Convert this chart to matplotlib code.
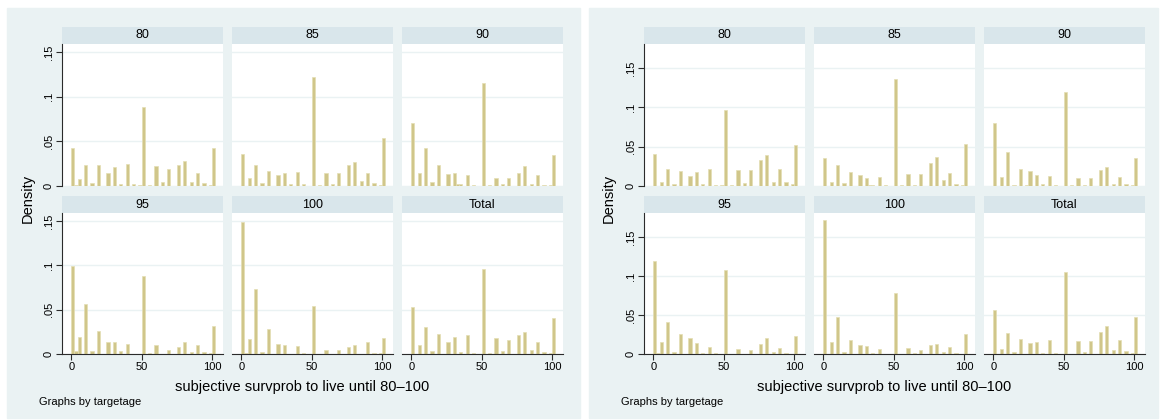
import numpy as np
import matplotlib.pyplot as plt
from matplotlib.patches import Rectangle

plt.rcParams['font.family'] = ['Liberation Sans', 'DejaVu Sans']

# answers given on the survey (round values) and the facet groups
answers = list(range(0, 101, 5))
groups = ['80', '85', '90', '95', '100', 'Total']

# left graph: density of the bins holding 0, 5, 10, ..., 100
left_80 = [.043, .008, .024, .003, .024, .015, .021, .002, .025, .002, .089,
           .001, .022, .004, .019, .023, .028, .004, .014, .003, .042]
left_85 = [.036, .009, .023, .003, .017, .012, .015, .002, .016, .002, .122,
           .001, .014, .002, .015, .023, .027, .006, .015, .003, .054]
left_90 = [.070, .015, .042, .005, .024, .013, .015, .002, .012, .001, .115,
           .001, .009, .002, .009, .015, .022, .002, .012, .001, .035]
left_95 = [.099, .019, .056, .003, .026, .013, .013, .003, .011, 0, .088,
           .001, .010, 0, .004, .008, .013, .002, .010, .002, .032]
left_100 = [.149, .017, .0735, .002, .028, .011, .010, 0, .009, .001, .054,
            0, .0045, 0, .0045, .008, .010, 0, .014, .001, .018]
left_total = [.053, .010, .030, .003, .023, .014, .019, .002, .021, .001, .0955,
              .001, .018, .003, .016, .021, .025, .004, .013, .002, .041]

# odd answers that fall in the bins between the round ones: (answer, density)
left_80_odd = [(3, .001), (48, .001), (98, .001)]
left_85_odd = [(98, .001)]
left_90_odd = [(33, .002), (98, .001)]
left_95_odd = [(3, .003), (98, .001)]
left_100_odd = [(3, .001), (98, .001)]
left_total_odd = [(98, .001)]

# right graph
right_80 = [.041, .005, .021, .0025, .019, .013, .018, .0025, .0215, .0015, .096,
            .001, .020, .004, .020, .033, .040, .005, .021, .005, .0525]
right_85 = [.036, .0055, .027, .0035, .018, .014, .010, .001, .0115, .001, .136,
            .001, .015, .001, .015, .029, .0365, .007, .017, .003, .054]
right_90 = [.0805, .011, .043, .0017, .021, .0187, .014, .002, .0127, .001, .119,
            .001, .0098, .0017, .0098, .020, .024, .0025, .012, .002, .035]
right_95 = [.119, .0155, .0405, .0025, .0256, .0205, .014, .0013, .009, .001, .108,
            0, .0064, 0, .005, .0128, .020, .0025, .008, .0017, .0235]
right_100 = [.1715, .0158, .047, .0025, .018, .012, .0098, .001, .0068, 0, .0785,
             0, .0077, .001, .0047, .0115, .0128, .003, .0094, .0013, .025]
right_total = [.056, .0064, .0264, .002, .0196, .0136, .0154, .0013, .0175, .0013, .1045,
               0, .0166, .0026, .0162, .028, .0358, .0047, .018, .0034, .0478]

right_80_odd = [(48, .001), (98, .002)]
right_85_odd = [(33, .001), (98, .001)]
right_90_odd = [(23, .001), (98, .001)]
right_95_odd = [(3, .001)]
right_100_odd = []
right_total_odd = [(98, .001)]

# histogram bins (Stata picked 45 bins of width 100/44)
n_bins = 45
bin_w = 100 / 44
edges = np.arange(n_bins) * bin_w

W, H = 1162, 420
panel_bg = '#EAF2F3'
strip_bg = '#D9E6EB'
bar_c = '#D0C68A'
axis_c = '#2b2b2b'


def box(x0, y0, x1, y1):
    # pixel box (from top-left) -> figure fraction
    return [x0 / W, 1 - y1 / H, (x1 - x0) / W, (y1 - y0) / H]


def bin_heights(dens, odd):
    h = np.zeros(n_bins)
    for a, d in zip(answers, dens):
        h[int(np.floor(a / bin_w + 1e-9))] += d
    for a, d in odd:
        h[int(np.floor(a / bin_w + 1e-9))] += d
    return h


fig = plt.figure(figsize=(W / 100, H / 100), dpi=100)
fig.patch.set_facecolor('white')

rows = [(27, 44, 186), (196, 213, 354)]  # strip top, plot top, plot bottom


def draw_graph(bg_x, cols, colw, ymax, series, odds, dens_x, xlab_x, note_x):
    x0, x1 = bg_x
    fig.patches.append(Rectangle((x0 / W, 1 - 418 / H), (x1 - x0) / W, 410 / H,
                                 transform=fig.transFigure, color=panel_bg, zorder=-5))
    for k, (name, dens, odd) in enumerate(zip(groups, series, odds)):
        r, c = divmod(k, 3)
        st, top, bot = rows[r]
        left = cols[c]
        # strip with the group name
        sax = fig.add_axes(box(left, st, left + colw, top))
        sax.set_facecolor(strip_bg)
        sax.set_xticks([])
        sax.set_yticks([])
        for s in sax.spines.values():
            s.set_visible(False)
        sax.text(0.5, 0.5, name, ha='center', va='center', fontsize=9,
                 transform=sax.transAxes)

        ax = fig.add_axes(box(left, top, left + colw, bot))
        ax.set_facecolor('white')
        h = bin_heights(dens, odd)
        keep = h > 0
        ax.bar(edges[keep], h[keep], width=bin_w, align='edge', color=bar_c,
               edgecolor='#E4DEB4', linewidth=0.5, zorder=2)
        ax.set_xlim(-6.6, 107.9)
        ax.set_ylim(0, ymax)
        ax.set_yticks([0, .05, .1, .15])
        ax.set_yticklabels(['0', '.05', '.1', '.15'])
        ax.set_xticks([0, 50, 100])
        ax.grid(axis='y', color=panel_bg, linewidth=1.0, zorder=0)
        ax.set_axisbelow(True)
        for s in ax.spines.values():
            s.set_visible(False)
        if c == 0:
            ax.spines['left'].set_visible(True)
            ax.spines['left'].set_color(axis_c)
            ax.spines['left'].set_linewidth(0.8)
            ax.tick_params(axis='y', length=4, width=0.8, color=axis_c, pad=2,
                           labelsize=8, labelrotation=90)
            for t in ax.get_yticklabels():
                t.set_va('center')
        else:
            ax.tick_params(axis='y', left=False, labelleft=False)
        if r == 1:
            ax.spines['bottom'].set_visible(True)
            ax.spines['bottom'].set_color(axis_c)
            ax.spines['bottom'].set_linewidth(0.8)
            ax.tick_params(axis='x', length=4, width=0.8, color=axis_c, pad=2,
                           labelsize=8)
        else:
            ax.tick_params(axis='x', bottom=False, labelbottom=False)

    fig.text(dens_x / W, 1 - 198 / H, 'Density', rotation=90, ha='center',
             va='center', fontsize=10.5)
    fig.text(xlab_x / W, 1 - 387 / H, 'subjective survprob to live until 80\u2013100',
             ha='center', va='center', fontsize=10.5)
    fig.text(note_x / W, 1 - 402 / H, 'Graphs by targetage', ha='left',
             va='center', fontsize=8)


draw_graph((7, 580), [62, 232, 402], 161, 0.159,
           [left_80, left_85, left_90, left_95, left_100, left_total],
           [left_80_odd, left_85_odd, left_90_odd, left_95_odd, left_100_odd, left_total_odd],
           27.5, 302, 39)
draw_graph((589, 1158), [644, 814, 984], 161, 0.1805,
           [right_80, right_85, right_90, right_95, right_100, right_total],
           [right_80_odd, right_85_odd, right_90_odd, right_95_odd, right_100_odd, right_total_odd],
           609, 884, 621)

fig.savefig('out.png', dpi=100)
